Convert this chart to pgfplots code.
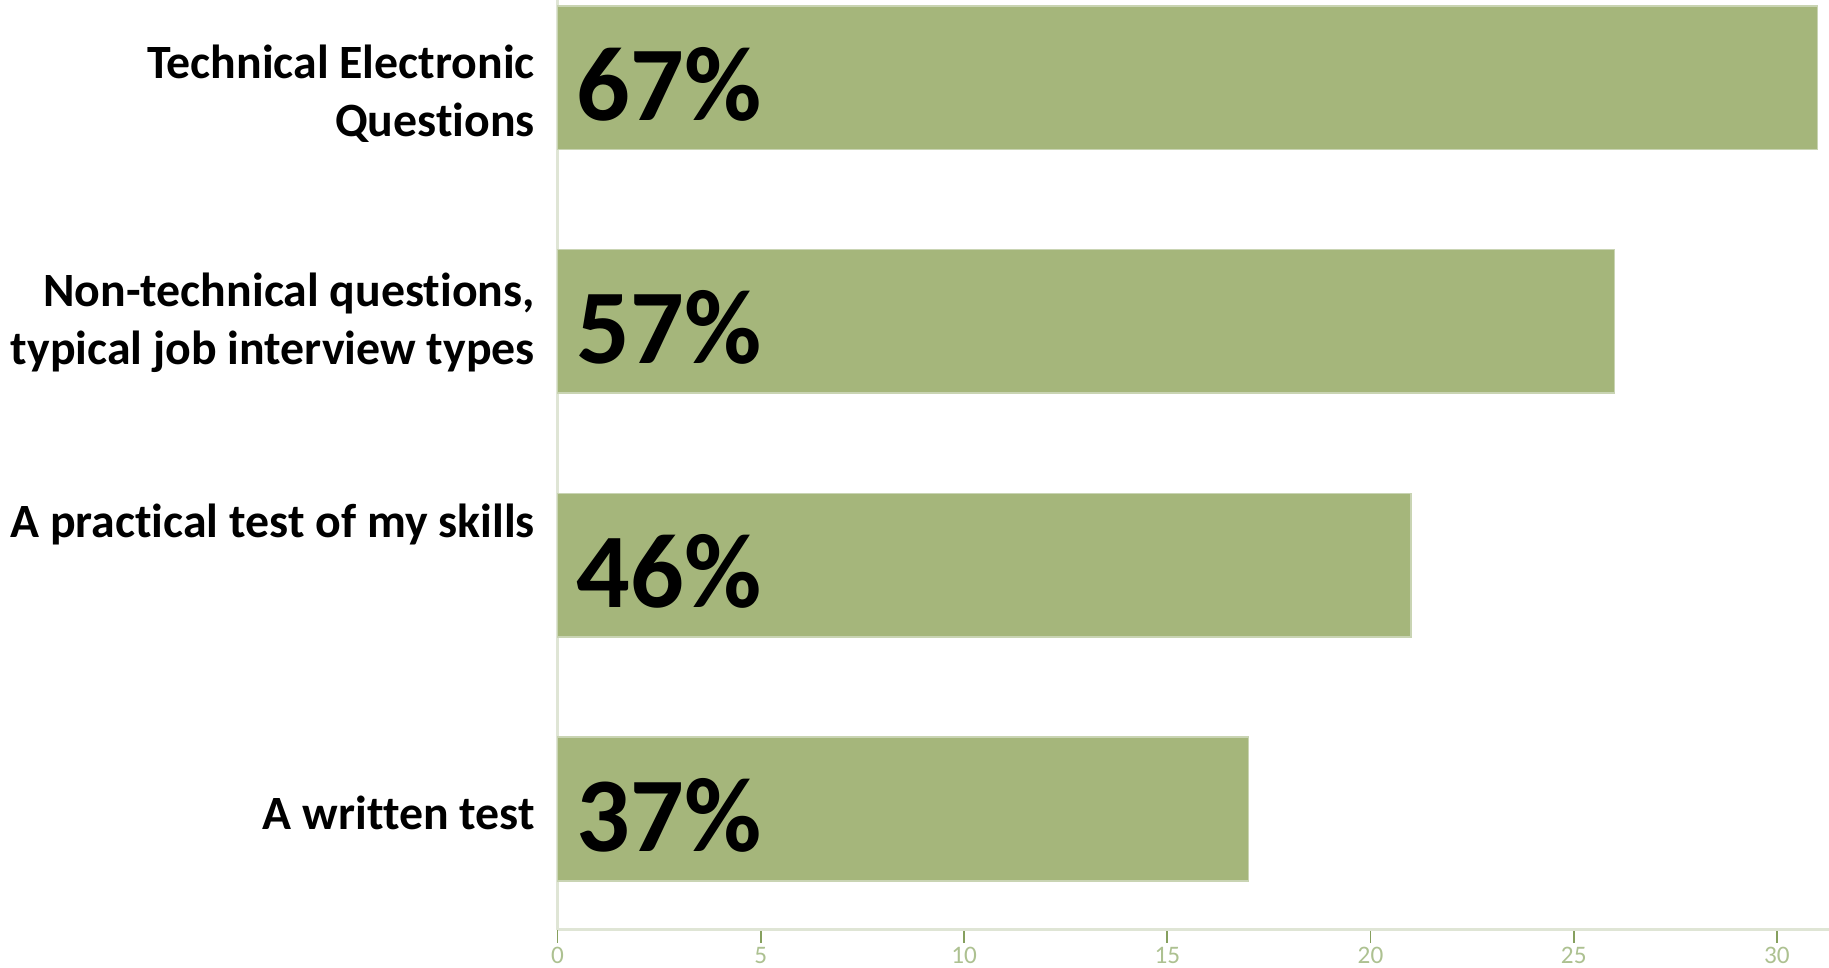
\documentclass[border=0pt]{standalone}
\usepackage{pgfplots}
\pgfplotsset{compat=1.18}
\usepackage{fontspec}
\setmainfont{Carlito}[Ligatures={NoCommon}]
\definecolor{barg}{HTML}{A5B67B}
\definecolor{bare}{HTML}{C9D4B3}
\definecolor{axl}{HTML}{DFE5D5}
\definecolor{tickg}{HTML}{86A05E}
\definecolor{tlab}{HTML}{ADC191}
\begin{document}
\begin{tikzpicture}
\begin{axis}[
  scale only axis, width=317.85pt, height=232.4pt,
  xmin=0, xmax=31.28, ymin=-0.495, ymax=3.318,
  xbar, bar width=0.589,
  axis x line*=bottom, axis y line*=left,
  axis line style={axl, line width=0.6pt},
  xtick={0,5,...,30}, ytick=\empty,
  tick align=outside, major tick length=3.3pt,
  every tick/.style={tickg, line width=0.45pt},
  xticklabel style={font=\fontsize{6.3}{7}\selectfont, text=tlab, inner sep=1pt},
  /pgf/number format/assume math mode=true,
  clip=false,
]
\addplot[fill=barg, draw=bare, line width=0.4pt] coordinates {(17,0) (21,1) (26,2) (31,3)};
\coordinate (sw) at (rel axis cs:0,0);
\coordinate (ne) at (rel axis cs:1,1);
\begin{scope}[every node/.style={anchor=base west, inner sep=0pt, xshift=4.6pt, font=\bfseries\fontsize{26.5}{30}\selectfont}]
\node at (axis cs:0,2.825) {67\%};
\node at (axis cs:0,1.825) {57\%};
\node at (axis cs:0,0.825) {46\%};
\node at (axis cs:0,-0.175) {37\%};
\end{scope}
\begin{scope}[every node/.style={anchor=east, inner sep=0pt, xshift=-5.5pt, align=right, font=\bfseries\fontsize{11.95}{14.5}\selectfont}]
\node at (axis cs:0,2.935) {Technical Electronic\\Questions};
\node at (axis cs:0,1.993) {Non-technical questions,\\typical job interview types};
\node at (axis cs:0,1.165) {A practical test of my skills};
\node at (axis cs:0,-0.017) {A written test};
\end{scope}
\end{axis}
\pgfresetboundingbox
\path ([shift={(-139.4pt,-9.575pt)}]sw) rectangle (ne);
\end{tikzpicture}
\end{document}
